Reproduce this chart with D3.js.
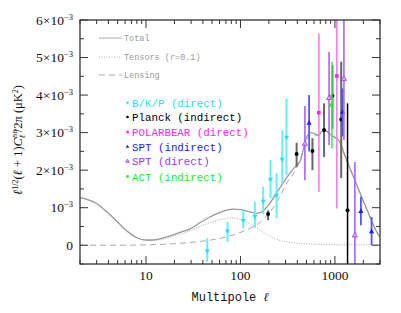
<!DOCTYPE html>
<html>
<head>
<script src="https://d3js.org/d3.v7.min.js"></script>
<style>
  body { margin: 0; background: #fff; }
  svg { display: block; }
</style>
</head>
<body>
<svg width="401" height="313"></svg>
<script>
// model curves, values in units of 1e-3 uK^2
const tensorEll = [2, 3, 4, 5, 6, 7, 8, 9, 10, 12, 14, 18, 23, 30, 37, 45, 55, 65, 80, 95, 110, 130, 150, 180, 220, 270, 350, 500, 800, 1500, 3000];
const tensorVal = [1.27, 1.11, 0.85, 0.62, 0.42, 0.29, 0.2, 0.15, 0.13, 0.12, 0.14, 0.21, 0.29, 0.4, 0.5, 0.58, 0.65, 0.7, 0.73, 0.71, 0.65, 0.55, 0.45, 0.33, 0.2, 0.12, 0.07, 0.04, 0.02, 0.01, 0.01];

const lensEll = [2, 5, 10, 20, 37, 60, 83, 126, 160, 200, 250, 300, 400, 460, 500, 580, 670, 780, 900, 1000, 1150, 1300, 1500, 1800, 2200, 2900, 3000];
const lensVal = [0, 0, 0.01, 0.04, 0.1, 0.18, 0.27, 0.45, 0.6, 0.85, 1.2, 1.6, 2.1, 2.5, 2.8, 2.95, 2.92, 3.05, 2.95, 2.85, 2.7, 2.3, 1.95, 1.45, 0.93, 0.27, 0.22];

const totalEll = [2, 3, 4, 5, 6, 7, 8, 10, 12, 14, 18, 23, 30, 37, 45, 55, 65, 83, 100, 120, 150, 175, 200, 240, 295, 340, 393, 430, 467, 500, 560, 620, 670, 720, 786, 850, 960, 1050, 1150, 1250, 1470, 1790, 2200, 2900, 3000];
const totalVal = [1.27, 1.11, 0.85, 0.62, 0.42, 0.29, 0.2, 0.14, 0.14, 0.17, 0.25, 0.34, 0.45, 0.6, 0.72, 0.83, 0.9, 0.96, 0.95, 0.9, 0.85, 0.92, 1.08, 1.39, 1.73, 1.95, 2.13, 2.25, 2.6, 2.88, 3.0, 2.96, 2.93, 3.02, 3.07, 3.0, 2.9, 2.85, 2.72, 2.45, 2.0, 1.47, 0.93, 0.27, 0.22];

// measurements: ell, value, upper, lower (1e-3 uK^2)
const bkpEll = [44.5, 73, 107, 142, 174, 208, 241, 277, 307];
const bkpVal = [-0.16, 0.37, 0.65, 0.76, 1.16, 1.75, 1.32, 2.28, 2.87];
const bkpHi = [0.19, 0.62, 0.93, 1.16, 1.56, 2.27, 1.92, 3.07, 3.91];
const bkpLo = [-0.45, 0.09, 0.45, 0.47, 0.83, 1.25, 0.72, 1.64, 1.87];

const planckEll = [196, 393, 578, 767, 942, 1165, 1360];
const planckVal = [0.83, 2.43, 2.51, 3.07, 3.98, 3.35, 0.93];
const planckHi = [0.93, 2.73, 2.85, 3.78, 4.8, 4.89, 3.78];
const planckLo = [0.67, 2.09, 2.0, 2.35, 3.1, 1.79, -1.9];

const pbEll = [676, 1047];
const pbVal = [3.53, 4.51];
const pbHi = [5.64, 8.0];
const pbLo = [1.42, 0.98];

const sptIndEll = [533, 1205, 1884, 2443];
const sptIndVal = [3.26, 3.55, 0.91, 0.37];
const sptIndHi = [4.0, 4.18, 1.29, 0.75];
const sptIndLo = [2.5, 2.9, 0.53, 0.0];

const sptDirEll = [481, 867, 1245, 1626];
const sptDirVal = [2.71, 3.93, 4.44, 0.27];
const sptDirHi = [3.71, 5.15, 6.2, 2.22];
const sptDirLo = [1.73, 2.67, 2.8, -1.7];

const actEll = [929];
const actVal = [3.73];
const actHi = [4.89];
const actLo = [2.58];

const yTicks = [0, 1, 2, 3, 4, 5, 6];
const yTickLabels = ["0", "10", "2×10", "3×10", "4×10", "5×10", "6×10"];
const xTicks = [10, 100, 1000];

const svg = d3.select("svg");
const pLeft = 80, pRight = 380, pTop = 20, pBottom = 264;

const x = d3.scaleLog().domain([2, 3000]).range([pLeft, pRight]);
const y = d3.scaleLinear().domain([-0.5, 6]).range([pBottom, pTop]);

svg.append("defs").append("clipPath").attr("id", "plotclip")
  .append("rect").attr("x", pLeft).attr("y", pTop).attr("width", pRight - pLeft).attr("height", pBottom - pTop);

const plot = svg.append("g").attr("clip-path", "url(#plotclip)");

// model lines
const line = d3.line().x(d => x(d[0])).y(d => y(d[1])).curve(d3.curveMonotoneX);
const zip = (a, b) => a.map((v, i) => [v, b[i]]);

plot.append("path").datum(zip(tensorEll, tensorVal))
  .attr("d", line).attr("fill", "none").attr("stroke", "#aaa")
  .attr("stroke-width", 1).attr("stroke-dasharray", "1,1.5");
plot.append("path").datum(zip(lensEll, lensVal))
  .attr("d", line).attr("fill", "none").attr("stroke", "#aaa")
  .attr("stroke-width", 1).attr("stroke-dasharray", "6,4");
plot.append("path").datum(zip(totalEll, totalVal))
  .attr("d", line).attr("fill", "none").attr("stroke", "#999")
  .attr("stroke-width", 1.3);

// data sets
const sets = [
  {name: "B/K/P (direct)", ell: bkpEll, val: bkpVal, hi: bkpHi, lo: bkpLo, color: "#22e4f2", bar: "#66eef8", bw: 2, mark: "tri-down"},
  {name: "Planck (indirect)", ell: planckEll, val: planckVal, hi: planckHi, lo: planckLo, color: "#000", bar: "#666", bw: 2, mark: "circle"},
  {name: "POLARBEAR (direct)", ell: pbEll, val: pbVal, hi: pbHi, lo: pbLo, color: "#ff22ff", bar: "#f47cf4", bw: 1.6, mark: "square"},
  {name: "SPT (indirect)", ell: sptIndEll, val: sptIndVal, hi: sptIndHi, lo: sptIndLo, color: "#1a1aff", bar: "#5555ff", bw: 1.8, mark: "tri-up"},
  {name: "SPT (direct)", ell: sptDirEll, val: sptDirVal, hi: sptDirHi, lo: sptDirLo, color: "#9933ff", bar: "#a863f5", bw: 1.6, mark: "tri-open"},
  {name: "ACT (indirect)", ell: actEll, val: actVal, hi: actHi, lo: actLo, color: "#22ee22", bar: "#44ee44", bw: 1.6, mark: "square"}
];

function drawMark(g, type, cx, cy, color, s) {
  if (type === "circle") {
    g.append("circle").attr("cx", cx).attr("cy", cy).attr("r", s * 0.75).attr("fill", color);
  } else if (type === "square") {
    g.append("rect").attr("x", cx - s * 0.7).attr("y", cy - s * 0.7)
      .attr("width", s * 1.4).attr("height", s * 1.4).attr("fill", color);
  } else if (type === "tri-down") {
    g.append("path").attr("d", `M${cx - s},${cy - s * 0.7}L${cx + s},${cy - s * 0.7}L${cx},${cy + s}Z`).attr("fill", color);
  } else if (type === "tri-up") {
    g.append("path").attr("d", `M${cx - s},${cy + s * 0.7}L${cx + s},${cy + s * 0.7}L${cx},${cy - s}Z`).attr("fill", color);
  } else if (type === "tri-open") {
    g.append("path").attr("d", `M${cx - s},${cy + s * 0.7}L${cx + s},${cy + s * 0.7}L${cx},${cy - s}Z`)
      .attr("fill", "#d9b3ff").attr("stroke", color).attr("stroke-width", 0.8);
  }
}

sets.forEach(s => {
  s.ell.forEach((e, i) => {
    const black = s.name.startsWith("Planck") && i === s.ell.length - 1;
    plot.append("line")
      .attr("x1", x(e)).attr("x2", x(e))
      .attr("y1", y(s.hi[i])).attr("y2", y(s.lo[i]))
      .attr("stroke", black ? "#000" : s.bar)
      .attr("stroke-width", black ? 1.5 : s.bw);
  });
  s.ell.forEach((e, i) => drawMark(plot, s.mark, x(e), y(s.val[i]), s.color, 2.6));
});

// frame and ticks
const axisColor = "#333";
svg.append("rect").attr("x", pLeft).attr("y", pTop).attr("width", pRight - pLeft).attr("height", pBottom - pTop)
  .attr("fill", "none").attr("stroke", axisColor).attr("stroke-width", 1.3);

const ticks = svg.append("g").attr("stroke", axisColor).attr("stroke-width", 1);
for (let v = -0.5; v <= 6; v += 0.5) {
  const major = Number.isInteger(v);
  const len = major ? 8 : 4;
  const yy = y(v);
  ticks.append("line").attr("x1", pLeft).attr("x2", pLeft + len).attr("y1", yy).attr("y2", yy);
  ticks.append("line").attr("x1", pRight).attr("x2", pRight - len).attr("y1", yy).attr("y2", yy);
}
const logTicks = [];
for (let dec = 1; dec <= 1000; dec *= 10) {
  for (let m = 1; m <= 9; m++) {
    const v = m * dec;
    if (v >= 2 && v <= 3000) logTicks.push(v);
  }
}
logTicks.forEach(v => {
  const major = xTicks.includes(v);
  const len = major ? 8 : 4;
  const xx = x(v);
  ticks.append("line").attr("x1", xx).attr("x2", xx).attr("y1", pBottom).attr("y2", pBottom - len);
  ticks.append("line").attr("x1", xx).attr("x2", xx).attr("y1", pTop).attr("y2", pTop + len);
});

// tick labels
const tickFont = "'Liberation Serif', serif";
yTicks.forEach((v, i) => {
  const t = svg.append("text").attr("x", 73).attr("y", y(v) + 4.5)
    .attr("text-anchor", "end").attr("font-family", tickFont).attr("font-size", 13.5).attr("fill", "#111");
  if (v === 0) {
    t.text("0");
  } else {
    t.append("tspan").text(yTickLabels[i]);
    t.append("tspan").attr("dy", -5).attr("font-size", 8.5).text("−3");
  }
});
xTicks.forEach(v => {
  svg.append("text").attr("x", x(v)).attr("y", 280)
    .attr("text-anchor", "middle").attr("font-family", tickFont).attr("font-size", 13.5)
    .attr("fill", "#111").text(v);
});

// axis titles
svg.append("text").attr("x", 230).attr("y", 301).attr("text-anchor", "middle")
  .attr("font-family", "'Liberation Mono', monospace").attr("font-size", 12).attr("fill", "#111")
  .text("Multipole ").append("tspan").attr("font-family", tickFont).attr("font-style", "italic").text("ℓ");

const yl = svg.append("text").attr("transform", "translate(22,140) rotate(-90)")
  .attr("text-anchor", "middle").attr("font-family", tickFont).attr("font-size", 12.5).attr("fill", "#111");
yl.append("tspan").attr("font-style", "italic").text("ℓ");
yl.append("tspan").attr("dy", -4).attr("font-size", 8).text("1/2");
yl.append("tspan").attr("dy", 4).text("(");
yl.append("tspan").attr("font-style", "italic").text("ℓ");
yl.append("tspan").text(" + 1)");
yl.append("tspan").attr("font-style", "italic").text("C");
yl.append("tspan").attr("dy", -5).attr("font-size", 7).attr("font-style", "italic").text("BB");
yl.append("tspan").attr("dy", 8).attr("dx", -9).attr("font-size", 8).attr("font-style", "italic").text("ℓ");
yl.append("tspan").attr("dy", -3).attr("dx", 3).text("/2π (μK");
yl.append("tspan").attr("dy", -4).attr("font-size", 8).text("2");
yl.append("tspan").attr("dy", 4).text(")");

// model legend
const modelLegend = [
  {label: "Total", dash: null, y: 38},
  {label: "Tensors (r=0.1)", dash: "1,1.5", y: 57},
  {label: "Lensing", dash: "6,4", y: 75}
];
modelLegend.forEach(d => {
  svg.append("line").attr("x1", 99).attr("x2", 122).attr("y1", d.y).attr("y2", d.y)
    .attr("stroke", "#aaa").attr("stroke-width", 1).attr("stroke-dasharray", d.dash);
  const t = svg.append("text").attr("x", 124).attr("y", d.y + 3)
    .attr("font-family", "'Liberation Mono', monospace").attr("font-size", 8.5).attr("fill", "#999");
  if (d.label.startsWith("Tensors")) {
    t.append("tspan").text("Tensors (");
    t.append("tspan").attr("font-style", "italic").text("r");
    t.append("tspan").text("=0.1)");
  } else {
    t.text(d.label);
  }
});

// data legend
const legendY = [103, 117, 132, 146.5, 161, 176.5];
sets.forEach((s, i) => {
  const g = svg.append("g");
  drawMark(g, s.mark, 127.5, legendY[i], s.color, 1.8);
  g.append("text").attr("x", 132).attr("y", legendY[i] + 4)
    .attr("font-family", "'Liberation Mono', monospace").attr("font-size", 10.8)
    .attr("fill", s.color).text(s.name);
});
</script>
</body>
</html>
